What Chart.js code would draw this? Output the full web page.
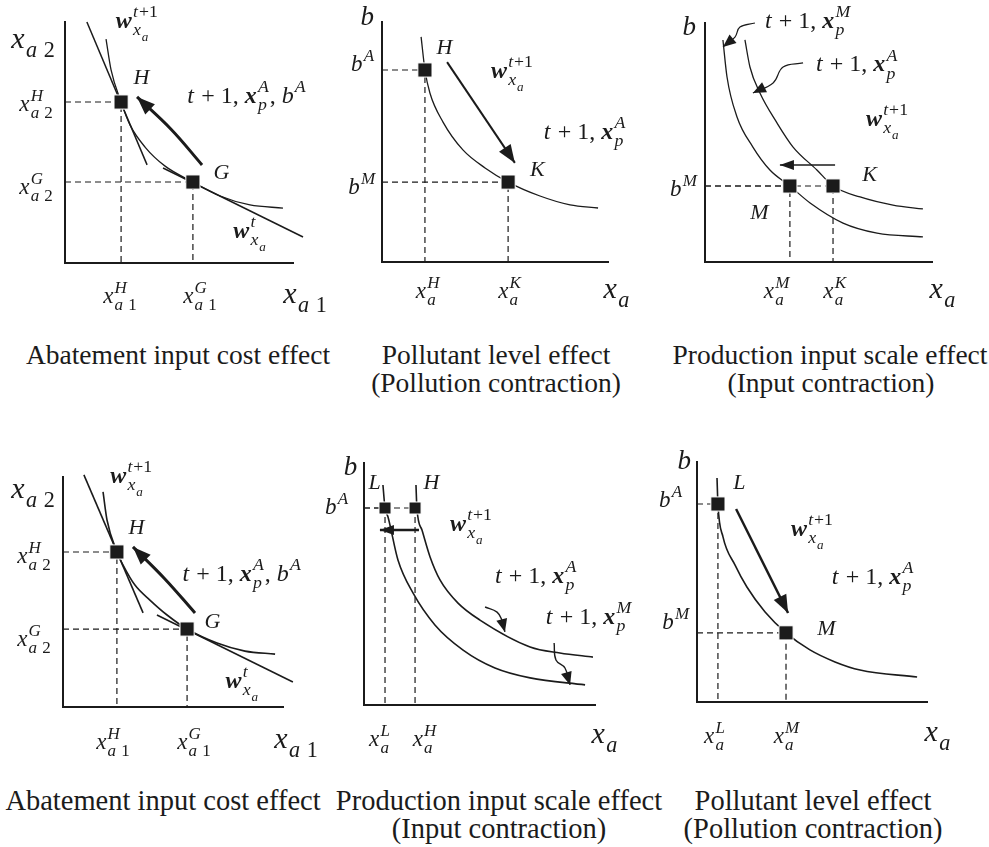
<!DOCTYPE html>
<html>
<head>
<meta charset="utf-8">
<script src="https://cdn.jsdelivr.net/npm/chart.js@4.4.1/dist/chart.umd.min.js"></script>
<style>
html, body { margin: 0; padding: 0; background: #fff; }
body { width: 989px; height: 847px; position: relative; overflow: hidden; }
.panel { position: absolute; }
.cap { position: absolute; width: 400px; font-family: "Liberation Serif", serif; line-height: 28px; color: #1b1b1b; text-align: center; white-space: nowrap; }
.cap.upper { font-size: 27.5px; }
.cap.lower { font-size: 28.5px; transform: scaleY(1.06); }
</style>
</head>
<body>
<script>
'use strict';
// every panel uses 0..100 on both axes (axis length = 100)

// top left: abatement input cost effect
const p1Isoquant = [[18, 92.9], [20.2, 80.1], [24.6, 66.8], [28.5, 57.3], [35.1, 48.1], [43.9, 40.2], [56.1, 33.6], [68, 27.8], [81.1, 24.1], [95.6, 22.8]]
const p1PriceNew = [[9.6, 100], [36, 40.7]]
const p1PriceOld = [[43, 39.4], [104.4, 10.8]]
const p1Move = [[60.1, 40.7], [46.5, 55.5], [31.6, 68.9]]
const p1Points = [[24.6, 66.8], [56.1, 33.6]]
const p1Labels = [
  ['x_{a 2}', -14, 92.5, 'axis'], ['*w^{t+1}_{x_a}', 31.5, 100, 'note'], ['H', 33.8, 76.8, 'pt'],
  ['t + 1, *x^A_p, b^A', 79.8, 68.9, 'note'], ['G', 68.9, 37.3, 'pt'], ['*w^t_{x_a}', 81.1, 12.9, 'note'],
  ['x^H_{a 2}', -12.7, 65.6, 'tick'], ['x^G_{a 2}', -12.7, 31.1, 'tick'],
  ['x^H_{a 1}', 24.1, -14.1, 'tick'], ['x^G_{a 1}', 59.2, -14.1, 'tick'], ['x_{a 1}', 105.3, -13.3, 'axis']
]

// top middle: pollutant level effect
const p2Isoquant = [[17.3, 93.8], [19, 80], [21.2, 70.4], [27, 58.3], [35.8, 46.7], [45.6, 39.2], [55.8, 33.3], [69.9, 27.5], [83.2, 23.8], [95.6, 22.5]]
const p2Move = [[28.8, 83.3], [58.8, 41.3]]
const p2Points = [[19, 80], [55.8, 33.3]]
const p2Labels = [
  ['b', -6.2, 101.7, 'axisb'], ['b^A', -8.4, 82.1, 'tick'], ['H', 27.9, 89.2, 'pt'],
  ['*w^{t+1}_{x_a}', 57.5, 79.2, 'note'], ['t + 1, *x^A_p', 89.8, 53.8, 'note'], ['K', 69, 38.3, 'pt'],
  ['b^M', -8.8, 30.8, 'tick'], ['x^H_a', 20.4, -12.5, 'tick'], ['x^K_a', 56.6, -12.5, 'tick'], ['x_a', 104, -11.7, 'axis']
]

// top right: production input scale effect
const p3IsoA = [[17.6, 92.9], [19.8, 81.6], [24.2, 70.7], [31.7, 58.2], [38.8, 48.1], [49.3, 38.5], [56.4, 31.8], [68.3, 27.2], [82.8, 23.8], [96, 22.2]]
const p3IsoM = [[7.9, 92.9], [9.7, 77.4], [14.1, 60.7], [21.1, 48.1], [28.6, 38.5], [37.4, 31.8], [46.3, 24.7], [60.8, 16.3], [75.8, 12.1], [96, 10.5]]
const p3Shift = [[57.3, 40.6], [33, 40.6]]
const p3LeadM = [[22, 100], [15.4, 98.3], [13.2, 94.1], [7.9, 90]]
const p3LeadA = [[43.2, 83.3], [34.4, 81.6], [30, 74.9], [21.1, 70.7]]
const p3Points = [[37.4, 31.8], [56.4, 31.8]]
const p3Labels = [
  ['b', -6.6, 97.9, 'axisb'], ['t + 1, *x^M_p', 45.4, 100.4, 'note'], ['t + 1, *x^A_p', 67, 82.4, 'note'],
  ['*w^{t+1}_{x_a}', 80.2, 59.4, 'note'], ['K', 72.7, 36.4, 'pt'], ['M', 24.2, 20.5, 'pt'],
  ['b^M', -9.3, 30.1, 'tick'], ['x^M_a', 31.7, -12.6, 'tick'], ['x^K_a', 57.3, -12.6, 'tick'], ['x_a', 104.8, -11.7, 'axis']
]

// bottom left: abatement input cost effect
const p4Isoquant = [[18.2, 93.5], [20, 81.3], [24.5, 67.4], [27.3, 61.7], [32.7, 53], [39.5, 46.5], [47.3, 40], [56.4, 33.9], [70, 27.8], [82.7, 24.3], [96.4, 23]]
const p4PriceNew = [[9.5, 100.9], [36.4, 40.9]]
const p4PriceOld = [[42.7, 40], [104.5, 10.9]]
const p4Move = [[60, 40.9], [46, 56], [31.8, 69.6]]
const p4Points = [[24.5, 67.4], [56.4, 33.9]]
const p4Labels = [
  ['x_{a 2}', -13.6, 94.3, 'axis'], ['*w^{t+1}_{x_a}', 31, 100, 'note'], ['H', 33.6, 77.8, 'pt'],
  ['G', 68.2, 37, 'pt'], ['t + 1, *x^A_p, b^A', 81.4, 57.4, 'note'], ['*w^t_{x_a}', 81.4, 10.9, 'note'],
  ['x^H_{a 2}', -13.2, 65.2, 'tick'], ['x^G_{a 2}', -13.2, 29.1, 'tick'],
  ['x^H_{a 1}', 22.7, -15.7, 'tick'], ['x^G_{a 1}', 59.5, -15.7, 'tick'], ['x_{a 1}', 105.9, -14.3, 'axis']
]

// bottom middle: production input scale effect
const p5IsoM = [[8.2, 90.9], [9.1, 81.4], [10.4, 77.7], [14.7, 59.9], [21.2, 46.3], [30.7, 33.1], [42.9, 22.7], [56.7, 15.3], [71.9, 11.2], [95.7, 8.3]]
const p5IsoA = [[22.5, 90.9], [22.9, 81.4], [25.1, 72.3], [28.6, 61.2], [32.9, 51.7], [40.7, 42.1], [50.2, 35.1], [71.9, 24], [84.8, 21.5], [99.1, 19.8]]
const p5Shift = [[23.8, 72.3], [6.9, 72.3]]
const p5LeadA = [[52.4, 40.5], [57.6, 38.4], [59.7, 35.1], [61, 30.2]]
const p5LeadM = [[82.3, 25.6], [83.1, 18.6], [87, 15.3], [89.2, 8.3]]
const p5Points = [[9.1, 81.4], [22.1, 81.4]]
const p5Labels = [
  ['b', -5.6, 97.9, 'axisb'], ['b^A', -11.7, 81.4, 'tick'], ['L', 4.8, 91.7, 'pt'], ['H', 29.4, 91.7, 'pt'],
  ['*w^{t+1}_{x_a}', 46.3, 74.4, 'note'], ['t + 1, *x^A_p', 74.5, 52.9, 'note'], ['t + 1, *x^M_p', 97.4, 36, 'note'],
  ['x^L_a', 6.9, -14.5, 'tick'], ['x^H_a', 26.4, -14.5, 'tick'], ['x_a', 104.3, -12.4, 'axis']
]

// bottom right: pollutant level effect
const p6Isoquant = [[8.7, 93.3], [9.1, 82.5], [11.3, 68.8], [16.5, 57.1], [21.7, 47.9], [29.6, 37.5], [38.7, 28.8], [49.1, 21.7], [60, 16.7], [70.9, 13.3], [95.7, 10.4]]
const p6Move = [[17, 80.4], [39.6, 37.1]]
const p6Points = [[9.1, 82.5], [38.7, 28.8]]
const p6Labels = [
  ['b', -5.2, 100, 'axisb'], ['b^A', -11.3, 83.8, 'tick'], ['L', 18.7, 91.3, 'pt'],
  ['*w^{t+1}_{x_a}', 50, 71.7, 'note'], ['t + 1, *x^A_p', 76.5, 51.7, 'note'], ['M', 56.5, 30.4, 'pt'],
  ['b^M', -9.1, 32.9, 'tick'], ['x^L_a', 7.8, -14.6, 'tick'], ['x^M_a', 39.1, -14.6, 'tick'], ['x_a', 104.8, -12.9, 'axis']
]

const captions = [
  ['Abatement input cost effect', 178, 355], ['Pollutant level effect', 496, 355], ['(Pollution contraction)', 496, 383],
  ['Production input scale effect', 830, 355], ['(Input contraction)', 831, 383],
  ['Abatement input cost effect', 163, 800], ['Production input scale effect', 499, 800], ['(Input contraction)', 499, 828],
  ['Pollutant level effect', 813, 800], ['(Pollution contraction)', 813, 828]
]

const INK = '#1b1b1b'
const FONT = { axis: 30, axisb: 27, tick: 23, pt: 22, note: 24 }
const SCRIPT = 0.74
const LABELS = {}

Chart.defaults.animation = false
Chart.defaults.font.family = '"Liberation Serif", serif'

// tiny tex-ish parser: x^{..}_{..}, '*' makes next glyph bold
function parseTex(s) {
  let i = 0
  function group() {
    if (s[i] === '{') { i++; const g = seq('}'); i++; return g }
    return [{ t: s[i++] }]
  }
  function seq(end) {
    const out = []
    while (i < s.length && s[i] !== end) {
      let bold = false
      if (s[i] === '*') { bold = true; i++ }
      const atom = { t: s[i++], bold: bold }
      while (s[i] === '^' || s[i] === '_') {
        const key = s[i++] === '^' ? 'sup' : 'sub'
        atom[key] = group()
      }
      out.push(atom)
    }
    return out
  }
  return seq(null)
}

function drawTex(ctx, atoms, x, y, size, dry) {
  let cx = x
  for (const a of atoms) {
    const italic = /[A-Za-z]/.test(a.t)
    ctx.font = (italic ? 'italic ' : '') + (a.bold ? 'bold ' : '') + size + 'px "Liberation Serif"'
    if (!dry) ctx.fillText(a.t, cx, y)
    cx += ctx.measureText(a.t).width + (italic ? size * 0.05 : 0)
    let w = 0
    if (a.sup) w = Math.max(w, drawTex(ctx, a.sup, cx, y - size * 0.45, size * SCRIPT, dry))
    if (a.sub) w = Math.max(w, drawTex(ctx, a.sub, cx, y + size * 0.3, size * SCRIPT, dry))
    cx += w
  }
  return cx - x
}

const mathLabels = {
  id: 'mathLabels',
  afterDraw(chart) {
    const ctx = chart.ctx
    const xs = chart.scales.x
    const ys = chart.scales.y
    ctx.save()
    ctx.fillStyle = INK
    ctx.textBaseline = 'alphabetic'
    for (const [tex, x, y, kind] of LABELS[chart.canvas.id]) {
      const size = FONT[kind]
      const atoms = parseTex(tex)
      const w = drawTex(ctx, atoms, 0, 0, size, true)
      drawTex(ctx, atoms, xs.getPixelForValue(x) - w / 2, ys.getPixelForValue(y) + size * 0.26, size, false)
    }
    ctx.restore()
  }
}

const arrowHeads = {
  id: 'arrowHeads',
  afterDatasetsDraw(chart) {
    const ctx = chart.ctx
    chart.data.datasets.forEach((ds, i) => {
      if (!ds.head) return
      const pts = chart.getDatasetMeta(i).data
      const tip = pts[pts.length - 1]
      let from = pts[pts.length - 2]
      if (tip.cp1x !== undefined && Math.hypot(tip.cp1x - tip.x, tip.cp1y - tip.y) > 1) {
        from = { x: tip.cp1x, y: tip.cp1y }
      }
      const ang = Math.atan2(tip.y - from.y, tip.x - from.x)
      const len = ds.head[0]
      const half = ds.head[1]
      const bx = tip.x - len * Math.cos(ang)
      const by = tip.y - len * Math.sin(ang)
      ctx.save()
      ctx.fillStyle = INK
      ctx.beginPath()
      ctx.moveTo(tip.x, tip.y)
      ctx.lineTo(bx + half * Math.sin(ang), by - half * Math.cos(ang))
      ctx.lineTo(bx - half * Math.sin(ang), by + half * Math.cos(ang))
      ctx.closePath()
      ctx.fill()
      ctx.restore()
    })
  }
}

function toXY(list) {
  return list.map(p => ({ x: p[0], y: p[1] }))
}

function line(list, extra) {
  return Object.assign({
    data: toXY(list),
    showLine: true,
    pointRadius: 0,
    borderColor: INK,
    borderWidth: 1.3,
    fill: false,
    clip: false,
    capBezierPoints: false
  }, extra)
}

function curve(list, width) {
  return line(list, { borderWidth: width || 1.3, cubicInterpolationMode: 'monotone' })
}

function arrow(list, width, head) {
  return line(list, { borderWidth: width, tension: list.length > 2 ? 0.4 : 0, head: head })
}

function makePanel(id, box, sets, points, labels, squareRadius) {
  const pad = { left: 66, right: 62, top: 32, bottom: 62 }
  const wrap = document.createElement('div')
  wrap.className = 'panel'
  wrap.style.left = (box[0] - pad.left) + 'px'
  wrap.style.top = (box[1] - pad.top) + 'px'
  wrap.style.width = (box[2] + pad.left + pad.right) + 'px'
  wrap.style.height = (box[3] + pad.top + pad.bottom) + 'px'
  const canvas = document.createElement('canvas')
  canvas.id = id
  wrap.appendChild(canvas)
  document.body.appendChild(wrap)
  LABELS[id] = labels

  const datasets = [
    {
      data: toXY(points),
      pointStyle: 'rect',
      pointRadius: squareRadius,
      pointBackgroundColor: INK,
      pointBorderColor: '#fff',
      pointBorderWidth: 1,
      showLine: false,
      clip: false
    }
  ].concat(sets)
  for (const p of points) {
    datasets.push(line([[0, p[1]], p, [p[0], 0]], { borderDash: [6, 4], borderWidth: 1.2 }))
  }

  const axis = {
    type: 'linear',
    min: 0,
    max: 100,
    grid: { display: false, drawTicks: false },
    ticks: { display: false },
    border: { display: true, color: INK, width: 2 }
  }
  return new Chart(canvas, {
    type: 'scatter',
    data: { datasets: datasets },
    options: {
      responsive: true,
      maintainAspectRatio: false,
      events: [],
      layout: { padding: pad },
      scales: { x: Object.assign({}, axis), y: Object.assign({}, axis) },
      plugins: { legend: { display: false }, tooltip: { enabled: false } }
    },
    plugins: [arrowHeads, mathLabels]
  })
}

makePanel('c1', [65, 22, 228, 241], [
  curve(p1Isoquant, 1.3),
  line(p1PriceNew, { borderWidth: 1.5 }),
  line(p1PriceOld, { borderWidth: 1.5 }),
  arrow(p1Move, 3, [18, 7])
], p1Points, p1Labels, 10)

makePanel('c2', [382, 22, 226, 240], [
  curve(p2Isoquant, 1.3),
  arrow(p2Move, 2, [18, 7])
], p2Points, p2Labels, 10)

makePanel('c3', [705, 23, 227, 239], [
  curve(p3IsoA, 1.3),
  curve(p3IsoM, 1.3),
  arrow(p3Shift, 1.5, [14, 5]),
  arrow(p3LeadM, 1.2, [13, 5.5]),
  arrow(p3LeadA, 1.2, [13, 5.5])
], p3Points, p3Labels, 10)

makePanel('c4', [63, 477, 220, 230], [
  curve(p4Isoquant, 1.6),
  line(p4PriceNew, { borderWidth: 1.6 }),
  line(p4PriceOld, { borderWidth: 1.6 }),
  arrow(p4Move, 3, [18, 7])
], p4Points, p4Labels, 10)

makePanel('c5', [364, 463, 231, 242], [
  curve(p5IsoM, 1.6),
  curve(p5IsoA, 1.6),
  arrow(p5Shift, 2.5, [14, 5]),
  arrow(p5LeadA, 1.4, [13, 5.5]),
  arrow(p5LeadM, 1.4, [13, 5.5])
], p5Points, p5Labels, 8.5)

makePanel('c6', [697, 462, 230, 240], [
  curve(p6Isoquant, 1.6),
  arrow(p6Move, 2.5, [18, 7])
], p6Points, p6Labels, 10)

for (const [text, cx, cy] of captions) {
  const el = document.createElement('div')
  el.className = 'cap ' + (cy < 420 ? 'upper' : 'lower')
  el.textContent = text
  el.style.left = (cx - 200) + 'px'
  el.style.top = (cy - 14) + 'px'
  document.body.appendChild(el)
}
</script>
</body>
</html>
